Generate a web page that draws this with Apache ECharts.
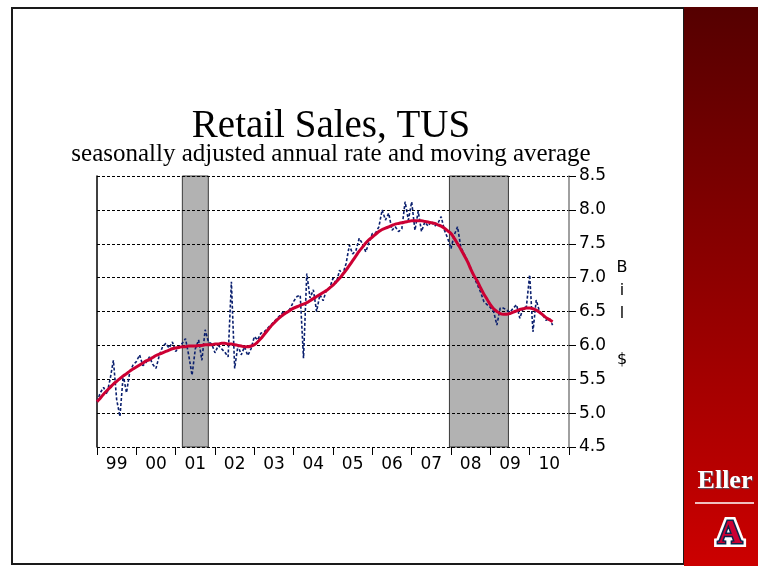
<!DOCTYPE html>
<html>
<head>
<meta charset="utf-8">
<script src="https://cdn.jsdelivr.net/npm/echarts@6/dist/echarts.min.js"></script>
<style>html,body{margin:0;padding:0;background:#fff}#c{width:758px;height:566px}</style>
</head>
<body>
<div id="c"></div>
<script>
// ---- data ----
const startYear = 1999;
const yearLabels = ['99','00','01','02','03','04','05','06','07','08','09','10'];
// monthly retail sales, Jan 1999 .. Aug 2010 (billion $, SAAR)
const rawSales = [
  5.17,5.30,5.38,5.28,5.50,5.78,5.20,4.95,5.56,5.30,5.61,5.71,
  5.76,5.86,5.70,5.75,5.83,5.72,5.66,5.85,5.98,6.03,5.96,6.05,
  5.91,5.98,6.03,6.10,5.85,5.56,5.95,6.08,5.78,6.23,6.05,6.02,
  5.89,6.00,5.95,5.90,5.83,6.94,5.66,6.00,5.86,5.98,5.85,5.95,
  6.13,6.08,6.18,6.20,6.25,6.30,6.35,6.40,6.45,6.50,6.48,6.55,
  6.65,6.72,6.74,5.81,7.06,6.70,6.82,6.50,6.75,6.66,6.82,6.85,
  6.99,6.92,7.11,7.05,7.21,7.48,7.35,7.40,7.58,7.50,7.38,7.52,
  7.65,7.66,7.75,8.00,7.85,7.95,7.70,7.75,7.68,7.72,8.12,7.85,
  8.12,7.70,7.98,7.68,7.82,7.76,7.83,7.76,7.80,7.90,7.70,7.58,
  7.43,7.63,7.75,7.45,7.35,7.25,7.14,7.01,6.90,6.79,6.65,6.60,
  6.56,6.50,6.30,6.55,6.55,6.52,6.49,6.55,6.60,6.40,6.55,6.57,
  7.04,6.20,6.67,6.50,6.45,6.37,6.40,6.30
];
const movingAvg = [
  5.17,5.22,5.28,5.33,5.38,5.43,5.47,5.51,5.55,5.58,5.62,5.65,
  5.68,5.71,5.74,5.77,5.79,5.82,5.85,5.87,5.89,5.91,5.93,5.95,
  5.96,5.97,5.98,5.98,5.99,5.99,5.99,6.00,6.00,6.01,6.01,6.01,
  6.02,6.02,6.03,6.03,6.02,6.02,6.01,6.00,5.99,5.98,5.98,5.99,
  6.01,6.05,6.10,6.16,6.22,6.28,6.33,6.38,6.42,6.46,6.49,6.52,
  6.55,6.57,6.59,6.61,6.63,6.66,6.69,6.72,6.75,6.78,6.81,6.85,
  6.89,6.94,6.99,7.05,7.11,7.18,7.25,7.32,7.39,7.45,7.51,7.56,
  7.60,7.64,7.68,7.71,7.73,7.75,7.77,7.79,7.80,7.81,7.82,7.83,
  7.84,7.84,7.84,7.84,7.83,7.82,7.81,7.80,7.78,7.76,7.73,7.69,
  7.65,7.58,7.50,7.42,7.33,7.24,7.13,7.03,6.95,6.85,6.76,6.68,
  6.60,6.54,6.50,6.47,6.46,6.46,6.47,6.49,6.51,6.53,6.54,6.55,
  6.55,6.54,6.52,6.49,6.45,6.41,6.38,6.35
];
// recessions (fractional years)
const recessions = [[2001.17, 2001.83], [2007.96, 2009.46]];
const yMin = 4.5, yMax = 8.5, yStep = 0.5;

// ---- chart ----
const toXY = arr => arr.map((v, i) => [startYear + i / 12, v]);
const chart = echarts.init(document.getElementById('c'), null, {renderer: 'canvas'});
const option = {
  animation: false,
  backgroundColor: '#fff',
  grid: {left: 97, right: 189, top: 176, bottom: 119},
  xAxis: [
    {type: 'value', min: startYear, max: startYear + yearLabels.length, show: false},
    {type: 'category', data: yearLabels, position: 'bottom', boundaryGap: true, z: 3,
     axisLine: {show: false, onZero: false},
     axisTick: {show: true, length: 8, lineStyle: {color: '#000', width: 1}},
     axisLabel: {fontSize: 17, fontFamily: 'DejaVu Sans', color: '#000', margin: 9},
     splitLine: {show: false}}
  ],
  yAxis: [
    {type: 'value', position: 'right', min: yMin, max: yMax, interval: yStep, z: 3,
     axisLine: {show: true, onZero: false, lineStyle: {color: '#808080', width: 1.5}},
     axisTick: {show: true, length: 7, lineStyle: {color: '#000'}},
     axisLabel: {formatter: v => v.toFixed(1), fontSize: 17, fontFamily: 'DejaVu Sans', color: '#000', margin: 10},
     splitLine: {show: true, lineStyle: {color: '#000', type: [3, 2], width: 1}}},
    {type: 'value', position: 'left', min: yMin, max: yMax, z: 3,
     axisLine: {show: true, onZero: false, lineStyle: {color: '#000', width: 1.5}},
     axisTick: {show: false}, axisLabel: {show: false}, splitLine: {show: false}}
  ],
  series: [
    {type: 'custom', xAxisIndex: 0, yAxisIndex: 0, z: 1, data: recessions,
     encode: {x: [0, 1]},
     renderItem: function (params, api) {
       const a = api.coord([api.value(0), yMax]);
       const b = api.coord([api.value(1), yMin]);
       return {type: 'rect', shape: {x: a[0], y: a[1], width: b[0] - a[0], height: b[1] - a[1]},
               style: {fill: '#b2b2b2', stroke: '#3a3a3a', lineWidth: 1}};
     }},
    {type: 'line', xAxisIndex: 0, yAxisIndex: 0, z: 4, data: toXY(rawSales), showSymbol: false,
     lineStyle: {color: '#0a1f6e', width: 1.6, type: [3, 2]}},
    {type: 'line', xAxisIndex: 0, yAxisIndex: 0, z: 5, data: toXY(movingAvg), showSymbol: false, smooth: 0.4,
     lineStyle: {color: '#cc0033', width: 3}}
  ],
  graphic: [
    {type: 'rect', z: -10, shape: {x: 12, y: 8, width: 672, height: 556}, style: {fill: 'none', stroke: '#1a1a1a', lineWidth: 2}},
    {type: 'rect', z: -5, shape: {x: 684, y: 7, width: 74, height: 559},
     style: {fill: new echarts.graphic.LinearGradient(0, 0, 0, 1, [
       {offset: 0, color: '#550000'}, {offset: 0.5, color: '#900000'}, {offset: 1, color: '#cc0000'}])}},
    {type: 'text', style: {x: 331, y: 127, text: 'Retail Sales, TUS', align: 'center', verticalAlign: 'middle',
      font: '39px "Liberation Serif", "DejaVu Serif", serif', fill: '#000'}},
    {type: 'text', style: {x: 331, y: 154, text: 'seasonally adjusted annual rate and moving average', align: 'center', verticalAlign: 'middle',
      font: '25px "Liberation Serif", "DejaVu Serif", serif', fill: '#000'}},
    {type: 'text', style: {x: 622, y: 256, text: 'B\ni\nl\n \n$', align: 'center', verticalAlign: 'top', lineHeight: 23,
      font: '16px "DejaVu Sans", sans-serif', fill: '#000'}},
    {type: 'text', style: {x: 725, y: 481, text: 'Eller', align: 'center', verticalAlign: 'middle',
      font: 'bold 26px "Liberation Serif", "DejaVu Serif", serif', fill: '#fff', textShadowColor: '#556', textShadowBlur: 1, textShadowOffsetX: 1, textShadowOffsetY: 1}},
    {type: 'line', shape: {x1: 695, y1: 503, x2: 754, y2: 503}, style: {stroke: '#fff', lineWidth: 1.5}},
    {type: 'text', style: {x: 730, y: 534, text: 'A', align: 'center', verticalAlign: 'middle',
      font: 'bold 34px "Liberation Serif", serif', fill: '#fff', stroke: '#fff', lineWidth: 8}},
    {type: 'text', style: {x: 730, y: 534, text: 'A', align: 'center', verticalAlign: 'middle',
      font: 'bold 34px "Liberation Serif", serif', fill: '#cc0033', stroke: '#0c234b', lineWidth: 3}}
  ]
};
chart.setOption(option);
</script>
</body>
</html>
